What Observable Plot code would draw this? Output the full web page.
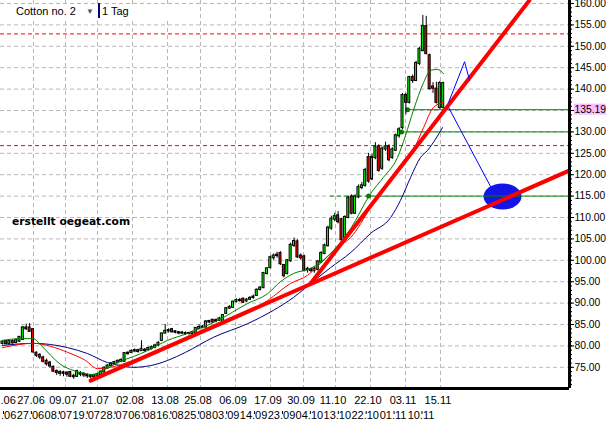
<!DOCTYPE html>
<html><head><meta charset="utf-8">
<script src="https://cdn.jsdelivr.net/npm/d3@7"></script>
<script src="https://cdn.jsdelivr.net/npm/@observablehq/plot@0.6"></script>
<style>
html,body{margin:0;padding:0;background:#fff;}
#wrap{position:relative;width:606px;height:430px;overflow:hidden;font-family:"Liberation Sans",Arial,sans-serif;}
#hdr{position:absolute;left:0;top:4px;height:16px;width:170px;background:#fff;font-size:11px;color:#000;}
#hdr .t{position:absolute;left:16px;top:1px;}
#hdr .arr{position:absolute;left:86px;top:1px;font-size:8px;color:#555;line-height:14px;}
#hdr .bar{position:absolute;left:98px;top:-1px;width:2px;height:15px;background:#000080;}
#hdr .tag{position:absolute;left:102px;top:1px;}
#mark{position:absolute;left:12px;top:215px;font-family:"DejaVu Sans",Verdana,sans-serif;font-weight:bold;font-size:10.7px;color:#000;}
</style></head><body>
<div id="wrap"><div id="chart"></div>
<div id="hdr"><span class="t">Cotton no. 2</span><span class="arr">&#9660;</span><span class="bar"></span><span class="tag">1 Tag</span></div>
<div id="mark">erstellt oegeat.com</div>
</div>
<script>
// ---- candle data (one bar per trading day, index 0..130) ----
const opens = [80.6,81.0,80.5,81.0,80.8,81.1,81.5,84.2,84.2,83.8,
78.3,77.8,77.2,76.4,76.0,75.0,74.0,73.8,73.6,73.6,
73.8,72.9,72.9,73.5,73.4,73.1,72.9,72.8,73.0,73.3,
73.9,74.8,75.4,75.9,76.2,76.4,76.4,78.2,78.5,78.8,
78.9,78.9,79.0,79.1,79.4,79.7,80.2,81.3,83.0,83.5,
83.8,83.3,83.1,83.0,82.9,82.9,82.9,83.1,84.1,84.3,
84.4,85.6,86.0,85.8,86.0,85.7,87.6,88.8,89.0,90.4,
90.6,90.9,90.5,90.9,91.3,91.8,93.2,93.6,96.9,98.3,
100.6,101.1,101.6,98.8,96.9,99.9,103.5,104.3,101.0,100.8,
97.8,97.8,97.6,97.9,99.6,101.6,103.4,107.5,109.6,110.4,
109.5,105.0,110.0,114.8,111.0,114.8,117.0,117.5,124.0,119.0,
124.0,126.5,121.5,126.0,126.5,124.0,125.7,129.1,131.0,138.5,
136.9,142.7,142.0,146.0,149.0,154.6,147.8,140.5,140.0,135.7,
135.7];
const closes = [80.9,80.5,81.0,80.7,81.2,82.0,84.2,84.0,83.4,78.6,
77.8,77.4,76.4,75.8,75.3,74.1,73.8,73.6,73.7,73.4,
72.9,72.8,74.0,73.4,73.2,73.0,72.8,73.0,73.3,73.9,
74.8,75.3,75.8,76.1,76.4,76.6,78.2,78.3,78.7,78.9,
78.7,79.2,78.9,79.4,79.6,80.0,80.6,82.8,83.4,83.6,
83.3,83.2,83.0,83.0,82.9,82.9,83.1,84.1,84.3,84.4,
85.6,85.7,85.6,85.9,86.3,87.1,88.7,89.0,90.2,90.6,
90.6,90.2,90.7,91.1,91.4,93.0,93.5,96.9,98.0,100.6,
101.0,101.2,99.2,96.4,99.9,103.5,104.4,100.8,100.6,97.6,
97.9,97.6,97.9,99.6,101.6,103.4,107.5,109.5,110.2,109.0,
104.8,110.0,114.5,111.0,114.8,117.0,117.4,121.0,118.5,124.0,
126.5,121.0,126.0,126.5,123.5,125.8,129.1,130.5,138.5,136.9,
142.7,142.0,146.0,149.3,154.6,148.3,140.1,140.2,136.9,141.3,
141.3];
const highs = [81.2,81.3,81.2,81.4,81.6,82.2,84.6,85.1,85.2,84.0,
78.6,78.2,77.6,76.9,76.4,75.3,74.4,74.2,74.1,74.0,
74.0,73.4,74.3,74.0,73.7,73.5,73.3,73.4,73.6,74.1,
75.1,75.6,76.1,76.4,76.7,77.0,78.4,78.6,79.1,79.3,
79.2,81.2,79.4,79.7,80.0,80.4,81.0,83.0,85.0,84.0,
84.1,83.6,83.4,83.4,83.3,83.2,83.5,84.3,84.9,84.8,
85.9,86.0,86.2,86.3,86.7,87.3,88.9,89.4,90.5,91.0,
91.1,91.2,91.1,91.5,91.9,93.3,93.9,97.2,98.3,101.0,
101.5,101.9,102.0,99.0,100.2,104.0,105.2,104.8,101.5,101.2,
98.4,98.2,98.5,99.9,102.0,103.8,108.0,110.3,111.0,111.4,
109.8,110.4,115.0,115.3,115.3,117.6,118.2,121.5,125.0,124.8,
127.5,127.0,126.5,127.6,127.0,126.3,129.5,131.0,139.0,139.0,
143.0,143.3,146.5,149.8,157.2,157.0,148.2,141.5,141.6,141.8,
141.6];
const lows = [80.2,80.3,80.2,80.4,80.5,80.8,81.3,83.6,83.2,78.3,
77.3,76.8,76.0,75.3,74.8,73.8,73.1,72.9,72.8,72.7,
72.6,72.2,72.6,72.8,72.6,72.4,72.3,72.5,72.7,73.0,
73.7,74.6,75.1,75.6,75.8,76.1,76.2,77.8,78.2,78.4,
78.3,78.7,78.5,78.8,79.0,79.3,79.8,81.0,82.8,83.0,
83.0,82.8,82.6,82.6,82.5,82.5,82.6,82.9,83.8,84.0,
84.2,85.2,85.3,85.4,85.7,85.5,87.4,88.5,88.8,90.0,
90.2,89.9,90.2,90.6,90.9,91.6,92.8,93.4,96.6,98.0,
100.0,100.5,98.8,95.9,96.6,99.5,103.0,100.4,100.0,97.3,
97.0,97.1,97.0,97.5,99.3,101.3,103.1,107.0,109.0,108.5,
104.4,104.7,109.7,110.6,110.7,114.4,116.5,117.1,118.0,118.6,
123.5,120.6,121.0,125.4,123.0,123.6,125.4,128.5,130.5,134.0,
136.5,141.3,141.8,145.5,148.7,148.0,139.8,139.0,136.5,135.3,
135.3];

// ---- moving averages: [bar index, value] ----
const maFast = [[0,81.3],[5.3,81.7],[9.1,81.7],[11.2,80.3],[14.2,77.8],[17.1,75.7],[20.1,74.5],[23,73.8],[26.8,73.3],[28.9,74.0],[31.9,75.2],[34.8,76.4],[38.6,77.5],[42.8,78.9],[48.7,81.3],[54.6,82.9],[58.4,84.1],[63.4,85.9],[72.3,89.9],[78.2,92.2],[82,95.0],[85.8,96.9],[90.9,98.1],[93.8,99.5],[97.6,102.3],[102.7,107.4],[108.6,115.6],[112.4,119.4],[116.5,124.0],[118.9,129.2],[121.2,135.0],[124.2,141.5],[126.3,144.4],[128.3,144.6],[130.1,143.6]];
const maMid = [[0,79.6],[9.1,80.6],[14.2,79.9],[19.2,78.5],[24.5,76.6],[28,74.7],[31.9,75.0],[37.8,76.4],[43.7,78.2],[48.7,79.6],[58.4,82.9],[67.3,85.9],[72.3,87.8],[78.2,90.6],[85,94.6],[90,96.5],[93.8,99.3],[98.8,103.0],[102.7,105.3],[108.6,112.3],[114.5,118.7],[118.3,122.6],[121.2,125.7],[124.2,131.0],[127.1,135.7],[130.1,136.9]];
const maSlow = [[0,80.1],[9.1,80.6],[19.2,79.6],[25.1,78.2],[31,76.1],[34.8,75.4],[38.6,75.0],[43.7,75.4],[48.7,76.6],[54,78.5],[62.2,82.0],[72.3,85.2],[79.9,88.3],[85.8,91.3],[91.7,95.1],[96.8,98.3],[102.7,101.8],[108.6,106.3],[114.5,110.0],[117.4,114.0],[120.4,119.4],[123.3,124.0],[125.4,125.7],[129.8,131.0]];

// ---- drawn annotations ----
const trendLow = [[26.0,71.9],[167.3,121.0]];
const trendSteep = [[90.9,94.6],[155.4,160.7]];
const projUp = [[131.6,136.9],[136.3,146.4],[137.8,142.0]];
const projDown = [[131.6,135.7],[144.0,117.2]];
const target = [[147.5,114.9]];
const greenLevels = [[119.5,135.19],[117.7,130.0],[108.0,115.0]];
const greenLevelLead = [[96.8,108.0,115.0]];
const redLevels = [152.9,126.8];
const lastPrice = 135.19;

// ---- axes ----
const yTicks = [75,80,85,90,95,100,105,110,115,120,125,130,135,140,145,150,155,160];
const dateTicks = [9.14,18.58,28.02,38.35,48.67,58.41,68.73,79.06,88.79,98.23,108.55,118.88,129.2];
const dateLabels = ["27.06","09.07","21.07","02.08","13.08","25.08","06.09","17.09","30.09","11.10","22.10","03.11","15.11"];
const date2Pos = [8.23,16.46,24.69,32.92,41.15,49.38,57.61,65.84,74.07,82.3,90.53,98.76,106.99,115.22,123.45];
const date2Labels = ["27.06","08.07","19.07","28.07","06.08","16.08","25.08","03.09","14.09","23.09","04.10","13.10","22.10","01.11","10.11"];
const date2TickPos = [0,8.23,16.46,24.69,32.92,41.15,49.38,57.61,65.84,74.07,82.3,90.53,98.76,106.99,115.22,123.45];
const cutLabel = ".06";

const xDom = [-0.59, 167.26];
const yDom = [70.05, 160.7];

const candles = opens.map((o, i) => ({i, open: o, close: closes[i], high: highs[i], low: lows[i]}));
const gridColor = "#b8b8b8";

const chart = Plot.plot({
  width: 606, height: 430,
  marginLeft: 0, marginRight: 37, marginTop: 0, marginBottom: 42,
  x: {domain: xDom, axis: null},
  y: {domain: yDom, axis: null},
  style: {fontFamily: "'Liberation Sans', Arial, sans-serif", fontSize: "11px", color: "black", background: "white"},
  marks: [
    Plot.ruleX(dateTicks, {stroke: gridColor, strokeDasharray: "4,3"}),
    Plot.ruleY(yTicks, {stroke: gridColor, strokeDasharray: "4,3"}),
    Plot.ruleY(redLevels, {stroke: "#ff0000", strokeDasharray: "4,3"}),
    Plot.dot(target, {x: d => d[0], y: d => d[1], r: 19, fill: "#1414e6", stroke: "none",
      symbol: {draw(ctx, size) {
        const rx = Math.sqrt(size / Math.PI), ry = rx * 13 / 19, k = 0.5523;
        ctx.moveTo(rx, 0);
        ctx.bezierCurveTo(rx, ry * k, rx * k, ry, 0, ry);
        ctx.bezierCurveTo(-rx * k, ry, -rx, ry * k, -rx, 0);
        ctx.bezierCurveTo(-rx, -ry * k, -rx * k, -ry, 0, -ry);
        ctx.bezierCurveTo(rx * k, -ry, rx, -ry * k, rx, 0);
        ctx.closePath();
      }}}),
    Plot.ruleY(greenLevelLead, {y: d => d[2], x1: d => d[0], x2: d => d[1], stroke: "#008000", strokeDasharray: "4,3"}),
    Plot.ruleY(greenLevels, {y: d => d[1], x1: d => d[0], x2: xDom[1], stroke: "#008000", strokeWidth: 1}),
    Plot.dot(greenLevels, {x: d => d[0], y: d => d[1], r: 2.5, fill: "#008000"}),
    Plot.ruleX(candles, {x: "i", y1: "low", y2: "high", stroke: "black", strokeWidth: 1}),
    Plot.rect(candles, {x1: "i", x2: "i", y1: "open", y2: "close",
      insetLeft: -1, insetRight: -1, insetTop: -0.5, insetBottom: -0.5,
      fill: d => d.close > d.open + 0.15 ? "#00ff00" : d.close < d.open - 0.15 ? "#ff0000" : "black",
      stroke: "black", strokeWidth: 1}),
    Plot.line(maSlow, {x: d => d[0], y: d => d[1], stroke: "#000080", strokeWidth: 1, curve: "monotone-x"}),
    Plot.line(maMid, {x: d => d[0], y: d => d[1], stroke: "#ff0000", strokeWidth: 1, curve: "monotone-x"}),
    Plot.line(maFast, {x: d => d[0], y: d => d[1], stroke: "#008000", strokeWidth: 1, curve: "monotone-x"}),
    Plot.line(trendLow, {x: d => d[0], y: d => d[1], stroke: "#ff0000", strokeWidth: 4, clip: true}),
    Plot.line(trendSteep, {x: d => d[0], y: d => d[1], stroke: "#ff0000", strokeWidth: 4, clip: true}),
    Plot.line(projUp, {x: d => d[0], y: d => d[1], stroke: "#0000ff", strokeWidth: 1}),
    Plot.line(projDown, {x: d => d[0], y: d => d[1], stroke: "#0000ff", strokeWidth: 1}),
    Plot.ruleY([yDom[0]], {stroke: "black", strokeWidth: 3}),
    Plot.ruleX([xDom[1]], {stroke: "black", strokeWidth: 3}),
    Plot.axisY(d3.range(71, 161, 1), {anchor: "right", tickSize: 2, tickFormat: () => ""}),
    Plot.axisY(yTicks, {anchor: "right", tickSize: 4, tickPadding: 1, fontSize: 10.3, tickFormat: d3.format(".2f")}),
    Plot.rect([lastPrice], {x1: xDom[1], x2: xDom[1], y1: d => d, y2: d => d,
      insetLeft: 5, insetRight: -37, insetTop: -5.5, insetBottom: -5.5, fill: "#fbbdfb"}),
    Plot.text([lastPrice], {x: xDom[1], y: d => d, dx: 5, textAnchor: "start", fontSize: 10.3, text: d => d.toFixed(2), fill: "black"}),
    Plot.text(dateLabels, {x: (d, i) => dateTicks[i], frameAnchor: "bottom", dy: 15, dx: -2.5, text: d => d, fill: "black"}),
    Plot.text([cutLabel], {x: xDom[0], frameAnchor: "bottom", dy: 15, textAnchor: "start", text: d => d, fill: "black"}),
    Plot.text(date2Labels, {x: (d, i) => date2Pos[i], frameAnchor: "bottom", dy: 30.5, text: d => d, fill: "black"}),
    Plot.text([cutLabel], {x: xDom[0], frameAnchor: "bottom", dy: 30.5, dx: 0.5, textAnchor: "start", text: d => d, fill: "black"}),
    Plot.ruleX(date2TickPos, {dx: 1, insetTop: 411, insetBottom: -26, stroke: "black"})
  ]
});
document.getElementById("chart").appendChild(chart);
</script></body></html>
